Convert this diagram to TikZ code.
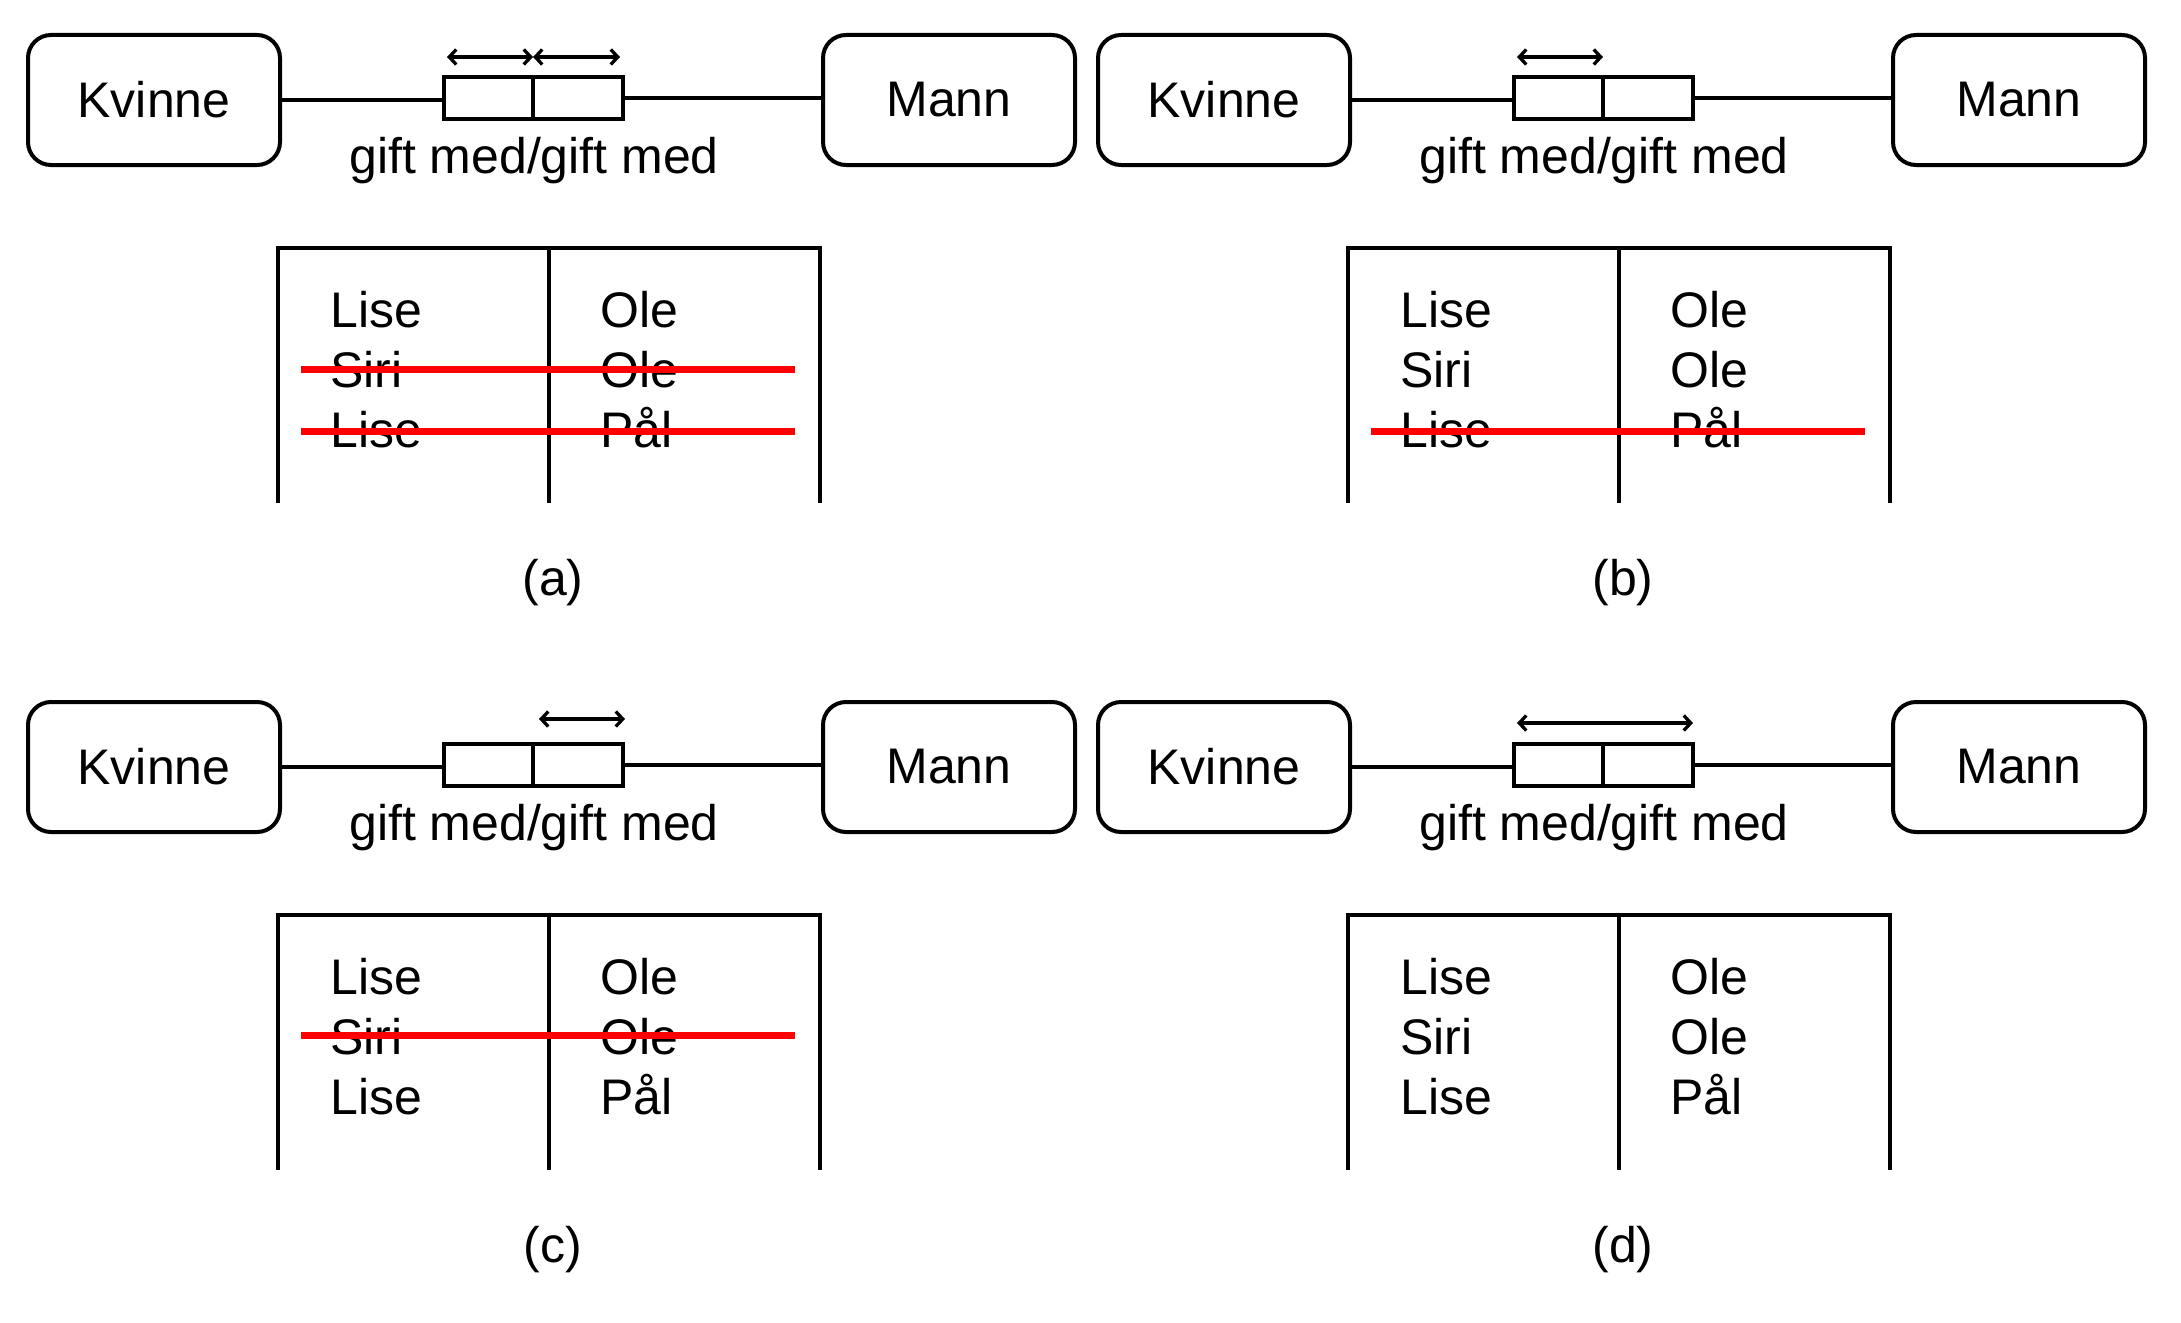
\documentclass[tikz,border=0pt]{standalone}
\usepackage{fontspec}
\setmainfont{Liberation Sans}
\usetikzlibrary{arrows.meta}
\begin{document}
\begin{tikzpicture}[x=1pt,y=-1pt,
  txt/.style={font=\fontsize{50}{60}\selectfont, inner sep=0pt},
  entity/.style={draw, line width=4pt, rounded corners=23pt, minimum width=252pt, minimum height=130pt, inner sep=0pt, txt},
  rolehalf/.style={draw, line width=4pt, minimum width=89.5pt, minimum height=42pt, inner sep=0pt},
  conn/.style={line width=3.5pt},
  tbl/.style={line width=4pt},
  strike/.style={red, line width=7pt},
  uniq/.style={line width=3.3pt, {Straight Barb[length=7pt,width=15pt]}-{Straight Barb[length=7pt,width=15pt]}}
]
\useasboundingbox (0,0) rectangle (2181,1322);
\foreach \p/\dx/\dy in {a/0/0, b/1070/0, c/0/667, d/1070/667}{
  \begin{scope}[shift={(\dx,\dy)}]
    \node[entity] (K\p) at (154,100) {Kvinne};
    \node[entity] (M\p) at (949,100) {Mann};
    \node[rolehalf] (RL\p) at (488.25,98) {};
    \node[rolehalf] (RR\p) at (577.75,98) {};
    \draw[conn] (K\p.east) -- (K\p.east -| RL\p.west);
    \draw[conn] (RR\p.east) -- (RR\p.east -| M\p.west);
    \node[txt, anchor=base] (G\p) at (534,173) {gift med/gift med};
    \draw[tbl] (278,503) -- (278,248) -- (820,248) -- (820,503);
    \draw[tbl] (549,248) -- (549,503);
    \node[txt, anchor=base west] (A1\p) at (330,327) {Lise};
    \node[txt, anchor=base west] (A2\p) at (330,387) {Siri};
    \node[txt, anchor=base west] (A3\p) at (330,447) {Lise};
    \node[txt, anchor=base west] (B1\p) at (600,327) {Ole};
    \node[txt, anchor=base west] (B2\p) at (600,387) {Ole};
    \node[txt, anchor=base west] (B3\p) at (600,447) {Pål};
    \node[txt, anchor=base] (C\p) at (553,595) {(\p)};
  \end{scope}
}
% uniqueness arrows
\coordinate (a1) at (447,57); \coordinate (a2) at (533,57); \coordinate (a3) at (620,57);
\draw[uniq] (a1) -- (a2);
\draw[uniq] (a2) -- (a3);
\coordinate (b1) at (1517,57); \coordinate (b2) at (1603,57);
\draw[uniq] (b1) -- (b2);
\coordinate (c1) at (539,719); \coordinate (c2) at (625,719);
\draw[uniq] (c1) -- (c2);
\coordinate (d1) at (1517,723); \coordinate (d2) at (1693,723);
\draw[uniq] (d1) -- (d2);
% strike-outs
\draw[strike] (301,369) -- (795,369);
\draw[strike] (301,431) -- (795,431);
\draw[strike] (1371,431) -- (1865,431);
\draw[strike] (301,1035) -- (795,1035);
\end{tikzpicture}
\end{document}
